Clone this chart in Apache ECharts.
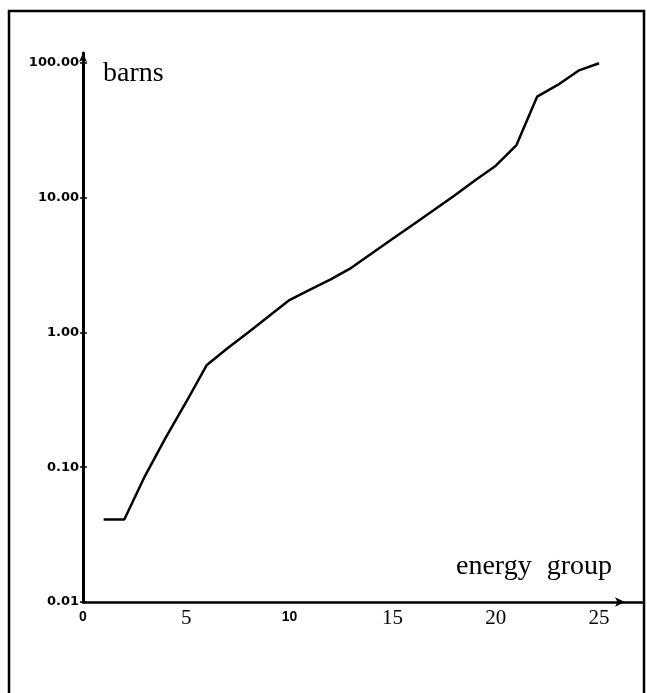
<!DOCTYPE html>
<html><head><meta charset="utf-8">
<script src="https://cdn.jsdelivr.net/npm/echarts@6/dist/echarts.min.js"></script>
<style>html,body{margin:0;padding:0;background:#fff}#c{width:647px;height:693px}</style>
</head><body><div id="c"></div>
<script>
// energy group numbers
const groups = [1,2,3,4,5,6,7,8,9,10,11,12,13,14,15,16,17,18,19,20,21,22,23,24,25];
// cross section in barns
const barns = [0.041,0.041,0.086,0.165,0.305,0.574,0.764,1.00,1.32,1.74,2.08,2.48,3.02,3.87,4.96,6.34,8.11,10.4,13.5,17.3,24.6,56.2,68.7,87.7,99.5];
const xTicks = [0,5,10,15,20,25];
const yTicks = [0.01,0.1,1,10,100];
const yName = 'barns';
const xName = ['energy','group'];

const chart = echarts.init(document.getElementById('c'), null, {renderer:'canvas'});
const pairs = groups.map((g,i)=>[g, barns[i]]);
const boldLbl = {fontFamily:'Liberation Sans', fontWeight:'bold', fontSize:14, color:'#000', padding:[2,0,0,0]};
const serifLbl = {fontFamily:'Liberation Serif', fontSize:21, color:'#000'};
chart.setOption({
  animation:false,
  backgroundColor:'#fff',
  grid:{left:83, right:4, top:53, bottom:91, containLabel:false},
  title:[
    {text:yName, left:103, top:60, padding:0, textStyle:{fontFamily:'Liberation Serif', fontSize:28, fontWeight:'normal', color:'#000'}},
    {text:'{a|'+xName[0]+'} {b|'+xName[1]+'}', left:456, top:553, padding:0, textStyle:{
      fontFamily:'Liberation Serif', fontSize:28, fontWeight:'normal', color:'#000',
      rich:{a:{fontFamily:'Liberation Serif', fontSize:28, color:'#000'}, b:{fontFamily:'Liberation Serif', fontSize:28, color:'#000', padding:[0,0,0,8]}}
    }}
  ],
  xAxis:{
    type:'value', min:0, max:27.13, interval:5,
    axisLine:{onZero:false, symbol:['none','arrow'], symbolSize:[7,10], symbolOffset:[0,-18], lineStyle:{color:'#000', width:2.5}},
    axisTick:{show:false},
    splitLine:{show:false},
    axisLabel:{
      margin:6, customValues:xTicks,
      formatter:function(v){
        return (v===0||v===10) ? '{b|'+v+'}' : '{s|'+v+'}';
      },
      rich:{b:boldLbl, s:serifLbl}
    }
  },
  yAxis:[
    {
      type:'log', logBase:10, min:0.01, max:118.6,
      axisLine:{symbol:['none','arrow'], symbolSize:[6,9], lineStyle:{color:'#000', width:3}},
      axisTick:{inside:true, length:4, customValues:yTicks, lineStyle:{color:'#000', width:1.5}},
      splitLine:{show:false},
      axisLabel:{
        margin:4, customValues:yTicks,
        formatter:function(v){ return Number(v).toFixed(2); },
        fontFamily:'DejaVu Sans', fontWeight:'bold', fontSize:13, color:'#000'
      }
    },
    {
      type:'log', logBase:10, min:0.01, max:118.6, position:'left',
      axisLine:{show:false},
      axisTick:{inside:false, length:3, customValues:yTicks, lineStyle:{color:'#000', width:1.5}},
      axisLabel:{show:false},
      splitLine:{show:false}
    }
  ],
  graphic:[
    {type:'polyline', silent:true, shape:{points:[[9,693],[9,11],[644,11],[644,693]]}, style:{stroke:'#000', lineWidth:2.5, fill:null}}
  ],
  series:[{
    type:'line', data:pairs, symbol:'none', yAxisIndex:0,
    lineStyle:{color:'#000', width:2.5}
  }]
});
</script>
</body></html>
